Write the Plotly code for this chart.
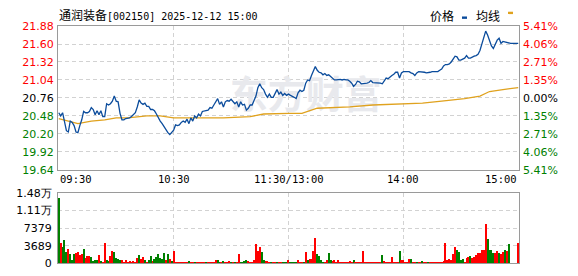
import plotly.graph_objects as go

W, H = 578, 276
title_name = "通润装备"
title_rest = "[002150] 2025-12-12 15:00"
prev_close = 20.76

# ---- price line (minute index from 09:30, price) ----
price_min = [0,1,2,3,4,5,6,7,8,9,10,11,12,13,14,15,16,17,18,19,
             20,21,22,23,24,25,26,27,28,29,30,31,32,33,34,35,37,38,40,41,
             42,43,44,45,46,47,48,49,50,51,52,53,54,55,56,57,58,59,60,61,
             62,63,64,65,66,67,68,69,70,71,72,73,74,75,76,77,78,79,80,81,
             82,83,84,85,86,87,88,89,90,91,92,93,94,95,96,97,98,99,100,101,
             102,103,104,105,106,107,108,109,110,111,112,113,114,115,116,117,118,119,120,121,
             122,123,124,125,126,127,128,129,130,131,132,133,134,135,136,137,138,139,140,141,
             142,143,144,145,146,147,148,149,150,151,152,153,154,155,156,157,158,159,160,161,
             162,163,164,165,166,167,168,169,170,171,172,173,174,175,176,177,178,179,180,181,
             182,183,184,185,186,187,188,189,190,191,192,193,194,195,196,197,198,199,200,201,
             202,203,204,205,206,207,208,209,210,211,212,213,214,215,216,217,218,219,220,221,
             222,223,224,225,226,227,228,229,230,231,232,233,234,235,236,240]
price_val = [20.53,20.48,20.53,20.40,20.25,20.23,20.40,20.38,20.33,20.23,20.22,20.33,20.42,20.55,20.53,20.53,20.55,20.61,20.58,20.50,
             20.56,20.50,20.56,20.47,20.47,20.67,20.65,20.67,20.71,20.79,20.71,20.70,20.52,20.42,20.42,20.44,20.45,20.47,20.53,20.62,
             20.73,20.68,20.66,20.68,20.63,20.63,20.58,20.58,20.56,20.51,20.44,20.40,20.36,20.31,20.27,20.22,20.19,20.22,20.26,20.34,
             20.33,20.34,20.38,20.40,20.38,20.43,20.36,20.45,20.40,20.48,20.45,20.51,20.48,20.55,20.56,20.57,20.57,20.61,20.60,20.65,
             20.70,20.75,20.66,20.70,20.62,20.70,20.72,20.71,20.74,20.70,20.67,20.70,20.62,20.70,20.65,20.66,20.57,20.60,20.65,20.65,
             20.72,20.79,20.92,20.98,20.92,20.89,20.82,20.77,20.82,20.77,20.77,20.84,20.89,20.82,20.85,20.80,20.83,20.80,20.82,20.80,
             20.79,20.77,20.75,20.84,20.88,20.86,20.88,20.99,21.04,21.03,21.11,21.17,21.25,21.19,21.16,21.15,21.12,21.14,21.11,21.12,
             21.09,21.07,21.04,21.04,21.05,21.05,21.04,21.05,21.04,21.04,21.02,20.99,20.94,20.97,21.02,21.01,20.98,20.98,20.98,20.99,
             21.00,21.03,21.00,21.00,21.00,20.99,20.99,20.98,21.03,21.07,21.06,21.09,21.11,21.13,21.16,21.16,21.07,21.15,21.17,21.17,
             21.17,21.17,21.15,21.14,21.11,21.15,21.17,21.17,21.17,21.16,21.15,21.15,21.16,21.17,21.17,21.17,21.17,21.19,21.21,21.26,
             21.28,21.28,21.29,21.32,21.37,21.41,21.40,21.35,21.35,21.36,21.38,21.42,21.38,21.38,21.40,21.41,21.42,21.44,21.50,21.60,
             21.70,21.80,21.74,21.65,21.57,21.53,21.60,21.66,21.69,21.61,21.64,21.63,21.63,21.62,21.61,21.61]

# ---- average price line ----
avg_min = [0,5,10,17,24,30,36,46,53,60,72,86,100,107,120,127,135,142,152,164,180,190,200,212,220,225,232,240]
avg_val = [20.44,20.40,20.36,20.40,20.42,20.45,20.45,20.48,20.48,20.45,20.45,20.45,20.47,20.51,20.52,20.52,
           20.60,20.61,20.62,20.65,20.67,20.68,20.71,20.75,20.79,20.86,20.89,20.92]

# ---- volume per minute and direction (r = up, g = down) ----
vol = [13630,4190,3460,4990,2460,2990,2000,800,2000,2260,
       2460,1800,2000,2990,1130,1660,1600,1460,600,670,
       670,1860,470,270,4390,730,530,1530,2530,2330,
       1130,930,670,670,300,800,330,530,330,530,
       270,1200,1800,1000,1330,670,270,670,1600,470,
       870,1260,2000,1060,930,2130,670,1930,930,470,
       2530,200,200,200,150,200,200,200,600,200,
       200,150,200,200,150,200,200,200,200,200,
       200,150,670,800,250,200,530,200,200,530,
       200,200,150,200,2000,200,200,470,670,530,
       200,200,670,4000,2660,3390,2460,670,530,470,
       200,200,200,400,200,200,200,150,200,200,
       800,200,200,200,200,670,200,150,300,2460,
       670,1000,1000,2590,5250,2000,1660,670,200,200,
       670,2190,670,470,800,300,670,300,300,300,
       300,200,470,300,800,300,300,300,200,2590,
       200,200,200,200,200,200,200,200,200,1800,
       470,400,200,200,1400,200,200,200,2590,800,
       670,200,200,870,1000,200,200,200,200,200,
       530,200,200,200,200,200,200,200,200,200,
       200,470,4190,670,870,670,2000,3390,2790,2390,
       800,1000,200,1130,1460,1600,1130,1330,1860,2130,
       2190,2930,2790,8310,5190,2790,2930,2130,2130,2660,
       2260,2000,2390,2930,2530,3990,0,0,0,0,
       4390]
vol_dir = list("grgggrgggr" "rrrgrrrggg" "grgrrggrrg" "gggrrrrrrr" "rrgrrgrggr"
               "ggggggrgrg" "rrrrrrrrgr" "rgrrrrrgrr" "rrrggrgrrr" "grgrrggggr"
               "rrrrrrggrr" "rgrrgrrggg" "rggggrrrgr" "grrrrggggr" "rggrrrrrrr"
               "rrrrgrrrrr" "rrrrrrrrrg" "rrrrrrrrgr" "rrrrgrrgrr" "grrgrrrrrr"
               "rrrrrrrrgg" "ggrrrgrrrr" "rrrrggggrr" "grrgrgrrrr" "r")

price_ticks = [19.64, 19.92, 20.20, 20.48, 20.76, 21.04, 21.32, 21.60, 21.88]
pct_ticks = [-5.41, -4.06, -2.71, -1.35, 0.00, 1.35, 2.71, 4.06, 5.41]
vol_ticks = [0, 3689, 7379, 11068, 14758]
vol_labels = ["0", "3689", "7379", "1.11万", "1.48万"]
time_pos = [0, 60, 120, 180, 240]
time_labels = ["09:30", "10:30", "11:30/13:00", "14:00", "15:00"]

RED, GREEN, BLACK = "#ff0000", "#008000", "#000000"
GRID = "#d2d2d2"
FRAME = "#9a9a9a"
BLUE = "#0b4c9c"
GOLD = "#e0a21e"

def col(v):
    return RED if v > 0.0001 else (GREEN if v < -0.0001 else BLACK)

price_text = ['<span style="color:%s">%.2f</span>' % (col(p - prev_close), p) for p in price_ticks]
pct_text = ['<span style="color:%s">%.2f%%</span>' % (col(v), abs(v)) for v in pct_ticks]

x0, x1 = 58 / W, 519 / W
main_dom = [1 - 172 / H, 1 - 21 / H]
vol_dom = [1 - 270 / H, 1 - 196 / H]
xr = [-0.4, 240.4]

fig = go.Figure()

# watermark (under the lines)
fig.add_trace(go.Scatter(x=[129], y=[20.75], mode="text", text=["<b>东方财富</b>"],
                         textfont=dict(size=38, color="#e8e9ed", family="Noto Sans CJK SC"),
                         hoverinfo="skip", showlegend=False, xaxis="x", yaxis="y"))
fig.add_trace(go.Scatter(x=avg_min, y=avg_val, mode="lines", line=dict(color=GOLD, width=1.3),
                         showlegend=False, xaxis="x", yaxis="y"))
fig.add_trace(go.Scatter(x=price_min, y=price_val, mode="lines", line=dict(color=BLUE, width=1.3),
                         showlegend=False, xaxis="x", yaxis="y"))
# percent scale companion (same line expressed as % change, invisible) so the right axis is drawn
fig.add_trace(go.Scatter(x=price_min, y=[(p - prev_close) / prev_close * 100 for p in price_val],
                         mode="lines", line=dict(width=0, color="rgba(0,0,0,0)"), hoverinfo="skip",
                         showlegend=False, xaxis="x", yaxis="y2"))
fig.add_trace(go.Bar(x=list(range(len(vol))), y=vol, width=0.55,
                     marker=dict(color=[RED if d == "r" else GREEN for d in vol_dir], line=dict(width=0)),
                     showlegend=False, xaxis="x2", yaxis="y3"))

tickfont = dict(family="DejaVu Sans", size=11, color=BLACK)
common_x = dict(range=xr, tickvals=[60, 120, 180], showticklabels=False, showgrid=True,
                gridcolor=GRID, griddash="4px,3px", gridwidth=1, zeroline=False,
                showline=True, mirror=True, linecolor=FRAME, linewidth=1, ticks="", fixedrange=True)
fig.update_layout(
    width=W, height=H, margin=dict(l=0, r=0, t=0, b=0),
    paper_bgcolor="white", plot_bgcolor="white", showlegend=False, bargap=0,
    xaxis=dict(domain=[x0, x1], anchor="y", **common_x),
    xaxis2=dict(domain=[x0, x1], anchor="y3", **common_x),
    yaxis=dict(domain=main_dom, anchor="x", range=[19.64, 21.88], tickvals=price_ticks, ticktext=price_text,
               showgrid=True, gridcolor=GRID, griddash="4px,3px", zeroline=False, showline=True, mirror=True,
               linecolor=FRAME, linewidth=1, ticks="", tickfont=tickfont, ticklabelstandoff=1, fixedrange=True),
    yaxis2=dict(domain=main_dom, anchor="x", overlaying="y", side="right", range=[-5.41, 5.41],
                tickvals=pct_ticks, ticktext=pct_text, showgrid=False, zeroline=False, showline=False,
                ticks="", tickfont=tickfont, ticklabelstandoff=3, fixedrange=True),
    yaxis3=dict(domain=vol_dom, anchor="x2", range=[0, 14758], tickvals=vol_ticks, ticktext=vol_labels,
                showgrid=True, gridcolor=GRID, griddash="4px,3px", zeroline=False, showline=True, mirror=True,
                linecolor=FRAME, linewidth=1, ticks="", tickfont=dict(family="DejaVu Sans", size=11, color=BLACK),
                ticklabelstandoff=3, fixedrange=True),
)

ann = []
ann.append(dict(xref="paper", yref="paper", x=57 / W, y=1 - 9 / H, xanchor="left", yanchor="middle",
                text=title_name + '<span style="font-family:DejaVu Sans Mono;font-size:10px">' + title_rest + "</span>",
                showarrow=False, font=dict(family="Noto Sans CJK SC", size=12, color=BLACK)))
ann.append(dict(xref="paper", yref="paper", x=442 / W, y=1 - 10 / H, xanchor="center", yanchor="middle",
                text="价格", showarrow=False, font=dict(family="Noto Sans CJK SC", size=12, color=BLACK)))
ann.append(dict(xref="paper", yref="paper", x=488 / W, y=1 - 10 / H, xanchor="center", yanchor="middle",
                text="均线", showarrow=False, font=dict(family="Noto Sans CJK SC", size=12, color=BLACK)))
for pos, lab in zip(time_pos, time_labels):
    anchor = "left" if pos == time_pos[0] else ("right" if pos == time_pos[-1] else "center")
    ann.append(dict(xref="x", yref="paper", x=pos, y=1 - 182 / H, xanchor=anchor, yanchor="middle",
                    text=lab, showarrow=False, borderpad=0,
                    font=dict(family="DejaVu Sans Mono", size=10.5, color=BLACK)))
fig.update_layout(annotations=ann)

fig.update_layout(shapes=[
    dict(type="rect", xref="paper", yref="paper", x0=462 / W, x1=467 / W, y0=1 - 13.5 / H, y1=1 - 11 / H,
         fillcolor=BLUE, line=dict(width=0)),
    dict(type="rect", xref="paper", yref="paper", x0=508 / W, x1=513 / W, y0=1 - 8.5 / H, y1=1 - 6 / H,
         fillcolor=GOLD, line=dict(width=0)),
])

fig.write_html("out.html")
